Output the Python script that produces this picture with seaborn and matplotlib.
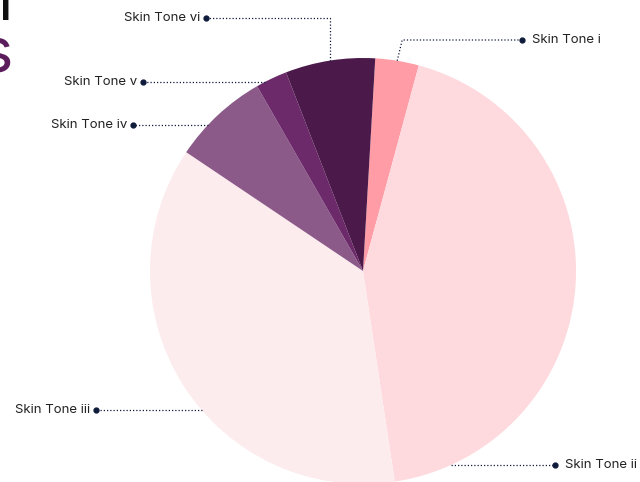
import numpy as np
import matplotlib
matplotlib.use("Agg")
import matplotlib.pyplot as plt
import seaborn as sns

# share of images per skin tone
tones = ["Skin Tone i", "Skin Tone ii", "Skin Tone iii", "Skin Tone iv", "Skin Tone v", "Skin Tone vi"]
shares = [3.3, 43.4, 36.8, 7.3, 2.4, 6.8]
tone_colors = ["#ff9ca6", "#fed9dd", "#fcecee", "#8b5a89", "#6c2a6a", "#4b1a4a"]

# label placement (pixels, y up) and how the leader line runs
label_pos = {
    "Skin Tone i": (522, 442, "elbow"),
    "Skin Tone ii": (555, 17, "flat"),
    "Skin Tone iii": (96, 72, "flat"),
    "Skin Tone iv": (133, 357, "flat"),
    "Skin Tone v": (143, 400, "flat"),
    "Skin Tone vi": (206, 464, "elbow"),
}

sns.set_theme(style="white")
plt.rcParams["font.family"] = ["Inter", "DejaVu Sans"]

fig = plt.figure(figsize=(6.4, 4.82), dpi=100)
ax = fig.add_axes([0, 0, 1, 1])
ax.set_xlim(0, 640)
ax.set_ylim(0, 482)
ax.axis("off")

cx, cy, R = 363, 211, 213
wedges, _ = ax.pie(shares, colors=tone_colors, startangle=86.7, counterclock=False,
                   center=(cx, cy), radius=R, wedgeprops=dict(linewidth=0),
                   frame=True)
ax.set_xlim(0, 640)
ax.set_ylim(0, 482)
ax.axis("off")

ink = "#0f1b3a"
for w, name in zip(wedges, tones):
    lx, ly, mode = label_pos[name]
    left = lx < cx
    if mode == "flat":
        dx = np.sqrt(R**2 - (ly - cy) ** 2)
        ex = cx - dx if left else cx + dx
        xs, ys = [ex, lx], [ly, ly]
    else:
        mid = np.deg2rad((w.theta1 + w.theta2) / 2)
        ex, ey = cx + R * np.cos(mid), cy + R * np.sin(mid)
        kx = ex if left else ex + 5
        xs, ys = [ex, kx, lx], [ey, ly, ly]
    ax.plot(xs, ys, color=ink, lw=0.9, ls=(0, (1, 1.6)), zorder=3)
    ax.plot(lx, ly, "o", color=ink, ms=3.5, zorder=4)
    ax.text(lx - 6 if left else lx + 10, ly, name, ha="right" if left else "left",
            va="center", fontsize=9.5, color="#222222")

# title fragments cut off at the left edge
fig.text(12 / 640, 1 - 20 / 482, "n", ha="right", va="baseline", fontsize=44, color="#111111")
fig.text(13 / 640, 1 - 72 / 482, "s", ha="right", va="baseline", fontsize=44, color="#5b1d5b")

fig.savefig("out.png", dpi=100)
